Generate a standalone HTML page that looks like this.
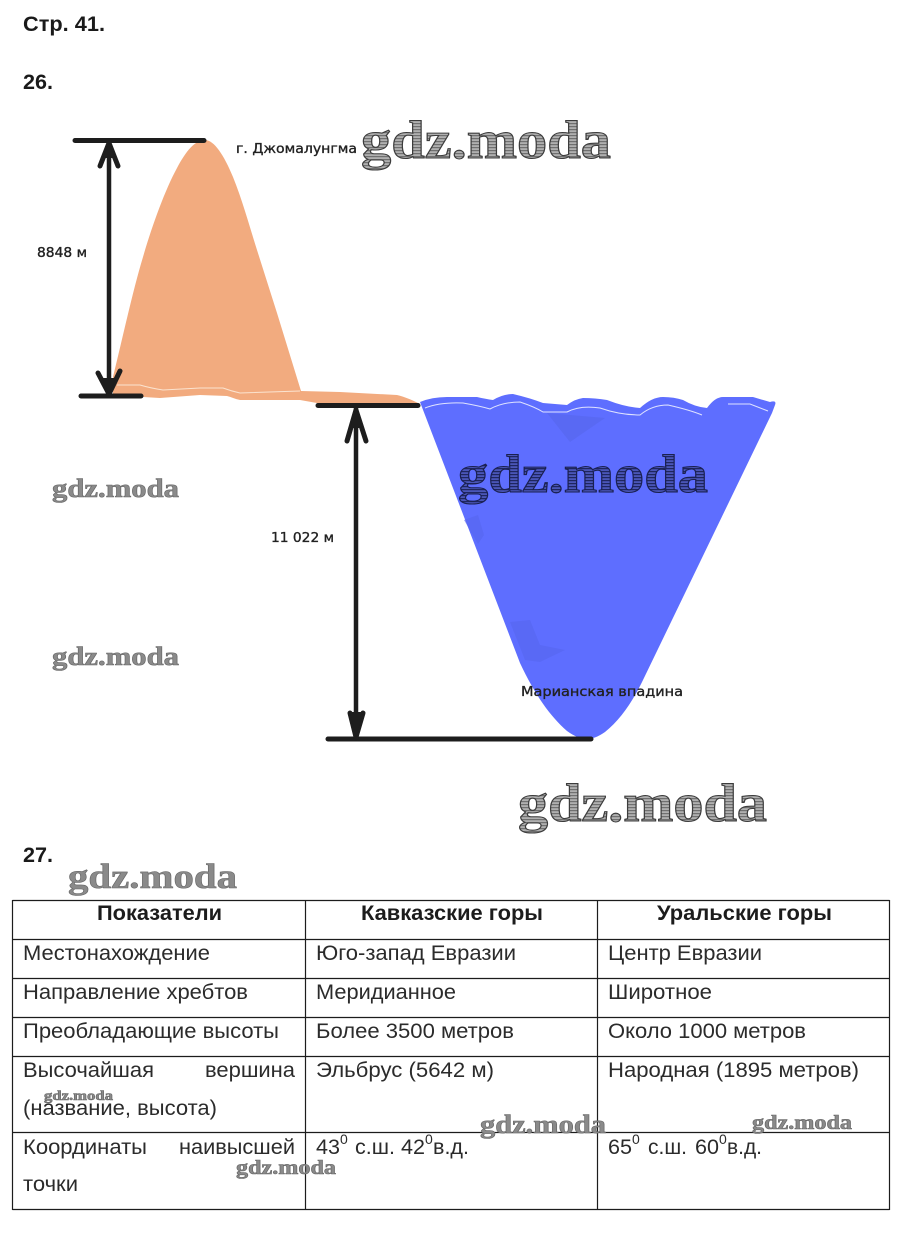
<!DOCTYPE html>
<html lang="ru"><head><meta charset="utf-8"><title>Стр. 41</title>
<style>
html,body{margin:0;padding:0;background:#fff}
svg{display:block}
.t{font-family:"Liberation Sans",sans-serif;font-size:21.5px;fill:#2b2b2b}
.b{font-family:"Liberation Sans",sans-serif;font-size:21px;font-weight:bold;fill:#1c1c1c}
.h{font-family:"Liberation Sans",sans-serif;font-size:21px;font-weight:bold;fill:#1a1a1a}
.l{font-family:"DejaVu Sans",sans-serif;font-size:13.5px;fill:#222;stroke:#222;stroke-width:.35}
.w{font-family:"Liberation Serif",serif;font-weight:bold;fill:url(#hatch);stroke:#3c3c3c;stroke-width:1.1}
.sm{fill:#8a8a8a;stroke:#666;stroke-width:.6}
.sup{font-size:14px}
</style></head><body>
<svg width="900" height="1260" viewBox="0 0 900 1260" xmlns="http://www.w3.org/2000/svg">
<defs>
<pattern id="hatch" width="4" height="3" patternUnits="userSpaceOnUse"><rect width="4" height="3" fill="#b0b0b0"/><rect width="4" height="1.2" fill="#707070"/></pattern>
<pattern id="hatchb" width="4" height="3" patternUnits="userSpaceOnUse"><rect width="4" height="3" fill="#4a56b8"/><rect width="4" height="1.2" fill="#1f2660"/></pattern>
</defs>
<rect width="900" height="1260" fill="#fff"/>

<text class="h" x="23" y="31" textLength="82" lengthAdjust="spacingAndGlyphs">Стр. 41.</text>
<text class="h" x="23" y="89" textLength="30" lengthAdjust="spacingAndGlyphs">26.</text>
<text class="h" x="23" y="862" textLength="30" lengthAdjust="spacingAndGlyphs">27.</text>

<!-- mountain -->
<path d="M113,377 C122,340 133,290 143,257 C152,226 165,190 177,168 C186,151 195,140 205,140 C214,140 224,155 233,177 C243,202 250,228 257,250 L277,313 L301,391 L340,392 L397,395 C405,397 412,400 418,403 L317,403 L300,400 L240,400 C235,399 231,397 227,396 L200,395 L160,398 L143,397 L113,394 Z" fill="#f2ab7f"/>
<path d="M117,385 L140,385 Q150,388 163,390 Q180,389 200,388 L223,388 Q231,391 240,393 L300,391" fill="none" stroke="#fbe3cf" stroke-width="1"/>

<!-- trench -->
<path d="M420,402 Q432,397 447,397 L477,397 Q486,399 493,400 Q503,394 513,394 Q530,398 543,403 L567,405 Q575,399 583,398 Q595,398 607,400 Q625,407 640,408 Q652,397 663,397 Q674,397 683,400 Q695,407 707,408 Q715,397 723,397 L753,397 L770,402 Q777,400 775,405 L772,413 L643,680 C632,703 620,720 605,732 Q595,739 587,739 Q578,739 567,731 C550,716 535,695 520,663 Z" fill="#5e6eff"/>
<path d="M547,413 L570,442 L605,418 Z" fill="#5766ee" opacity=".7"/>
<path d="M464,520 L478,515 L484,535 L478,544 Z" fill="#5766ee" opacity=".6"/>
<path d="M510,622 L530,620 L540,645 L565,650 L540,662 L525,660 Z" fill="#5766ee" opacity=".6"/>
<path d="M425,408 Q440,402 463,403 Q480,406 490,409 Q503,402 520,402 Q535,407 543,412 L567,412 Q580,405 600,408 Q620,415 640,415 Q652,405 668,405 Q690,410 702,415 M728,404 L750,404 L768,411" fill="none" stroke="#dfe3ff" stroke-width="1"/>

<!-- bars and arrows -->
<g stroke="#1d1d1d" fill="none" stroke-linecap="round" stroke-linejoin="round">
<path d="M75,140.5 H204" stroke-width="5"/>
<path d="M81,396 H141" stroke-width="5"/>
<path d="M318,405.5 H418" stroke-width="5"/>
<path d="M328,739 H591" stroke-width="5"/>
<path d="M109,143 V394" stroke-width="4.5"/>
<path d="M100,166 L109,143 L118,166" stroke-width="5"/>
<path d="M98,373 L109,394 L120,371" stroke-width="5"/>
<path d="M356,408 V738" stroke-width="4.5"/>
<path d="M347,441 L356,410 L366,441" stroke-width="5"/>
<path d="M350,713 L356,737 L363,713" stroke-width="5"/>
</g>
<g fill="#1d1d1d">
<path d="M109,143 L103,158 L115,158 Z"/>
<path d="M109,394 L102,378 L116,378 Z"/>
<path d="M356,408 L350,428 L362,428 Z"/>
<path d="M356,737 L350,712 L363,712 Z"/>
</g>

<text class="l" x="236" y="153" textLength="121" lengthAdjust="spacingAndGlyphs">г. Джомалунгма</text>
<text class="l" x="37" y="257" textLength="50" lengthAdjust="spacingAndGlyphs">8848 м</text>
<text class="l" x="271" y="542" textLength="63" lengthAdjust="spacingAndGlyphs">11 022 м</text>
<text class="l" x="521" y="696" textLength="162" lengthAdjust="spacingAndGlyphs">Марианская впадина</text>

<!-- table -->
<g stroke="#1c1c1c" stroke-width="1.2" fill="none">
<path d="M12.5,900.5 H889.5 M12.5,939.5 H889.5 M12.5,978.5 H889.5 M12.5,1017.5 H889.5 M12.5,1056.5 H889.5 M12.5,1132.5 H889.5 M12.5,1209.5 H889.5"/>
<path d="M12.5,900 V1210 M305.5,900 V1210 M597.5,900 V1210 M889.5,900 V1210"/>
</g>

<text class="b" x="97" y="920" textLength="125" lengthAdjust="spacingAndGlyphs">Показатели</text>
<text class="b" x="361" y="920" textLength="182" lengthAdjust="spacingAndGlyphs">Кавказские горы</text>
<text class="b" x="657" y="920" textLength="175" lengthAdjust="spacingAndGlyphs">Уральские горы</text>

<text class="t" x="23" y="960" textLength="187" lengthAdjust="spacingAndGlyphs">Местонахождение</text>
<text class="t" x="316" y="960" textLength="200" lengthAdjust="spacingAndGlyphs">Юго-запад Евразии</text>
<text class="t" x="608" y="960" textLength="154" lengthAdjust="spacingAndGlyphs">Центр Евразии</text>

<text class="t" x="23" y="999" textLength="225" lengthAdjust="spacingAndGlyphs">Направление хребтов</text>
<text class="t" x="316" y="999" textLength="140" lengthAdjust="spacingAndGlyphs">Меридианное</text>
<text class="t" x="608" y="999" textLength="104" lengthAdjust="spacingAndGlyphs">Широтное</text>

<text class="t" x="23" y="1038" textLength="256" lengthAdjust="spacingAndGlyphs">Преобладающие высоты</text>
<text class="t" x="316" y="1038" textLength="198" lengthAdjust="spacingAndGlyphs">Более 3500 метров</text>
<text class="t" x="608" y="1038" textLength="198" lengthAdjust="spacingAndGlyphs">Около 1000 метров</text>

<text class="t" x="23" y="1077" textLength="131" lengthAdjust="spacingAndGlyphs">Высочайшая</text>
<text class="t" x="205" y="1077" textLength="90" lengthAdjust="spacingAndGlyphs">вершина</text>
<text class="t" x="23" y="1115" textLength="194" lengthAdjust="spacingAndGlyphs">(название, высота)</text>
<text class="t" x="316" y="1077" textLength="178" lengthAdjust="spacingAndGlyphs">Эльбрус (5642 м)</text>
<text class="t" x="608" y="1077" textLength="251" lengthAdjust="spacingAndGlyphs">Народная (1895 метров)</text>

<text class="t" x="23" y="1154" textLength="124" lengthAdjust="spacingAndGlyphs">Координаты</text>
<text class="t" x="179" y="1154" textLength="116" lengthAdjust="spacingAndGlyphs">наивысшей</text>
<text class="t" x="23" y="1191" textLength="55" lengthAdjust="spacingAndGlyphs">точки</text>

<text class="t" x="316" y="1154" textLength="24" lengthAdjust="spacingAndGlyphs">43</text><text class="t sup" x="340" y="1144">0</text>
<text class="t" x="355" y="1154" textLength="40" lengthAdjust="spacingAndGlyphs">с.ш.</text>
<text class="t" x="401" y="1154" textLength="24" lengthAdjust="spacingAndGlyphs">42</text><text class="t sup" x="425" y="1144">0</text>
<text class="t" x="433" y="1154" textLength="36" lengthAdjust="spacingAndGlyphs">в.д.</text>

<text class="t" x="608" y="1154" textLength="24" lengthAdjust="spacingAndGlyphs">65</text><text class="t sup" x="632" y="1144">0</text>
<text class="t" x="648" y="1154" textLength="39" lengthAdjust="spacingAndGlyphs">с.ш.</text>
<text class="t" x="695" y="1154" textLength="24" lengthAdjust="spacingAndGlyphs">60</text><text class="t sup" x="719" y="1144">0</text>
<text class="t" x="727" y="1154" textLength="35" lengthAdjust="spacingAndGlyphs">в.д.</text>

<!-- watermarks -->
<text class="w" x="361" y="158" font-size="54" textLength="250" lengthAdjust="spacingAndGlyphs">gdz.moda</text>
<text class="w" x="458" y="492" font-size="54" textLength="250" lengthAdjust="spacingAndGlyphs" style="fill:url(#hatchb);stroke:#1a2050">gdz.moda</text>
<text class="w" x="518" y="821" font-size="54" textLength="249" lengthAdjust="spacingAndGlyphs">gdz.moda</text>
<text class="w sm" x="52" y="497" font-size="26" textLength="127" lengthAdjust="spacingAndGlyphs">gdz.moda</text>
<text class="w sm" x="52" y="665" font-size="26" textLength="127" lengthAdjust="spacingAndGlyphs">gdz.moda</text>
<text class="w sm" x="68" y="888" font-size="35" textLength="169" lengthAdjust="spacingAndGlyphs">gdz.moda</text>
<text class="w sm" x="44" y="1100" font-size="14" textLength="69" lengthAdjust="spacingAndGlyphs">gdz.moda</text>
<text class="w sm" x="480" y="1133" font-size="26" textLength="126" lengthAdjust="spacingAndGlyphs">gdz.moda</text>
<text class="w sm" x="752" y="1129" font-size="20" textLength="100" lengthAdjust="spacingAndGlyphs">gdz.moda</text>
<text class="w sm" x="236" y="1174" font-size="20" textLength="100" lengthAdjust="spacingAndGlyphs">gdz.moda</text>
</svg>
</body></html>
